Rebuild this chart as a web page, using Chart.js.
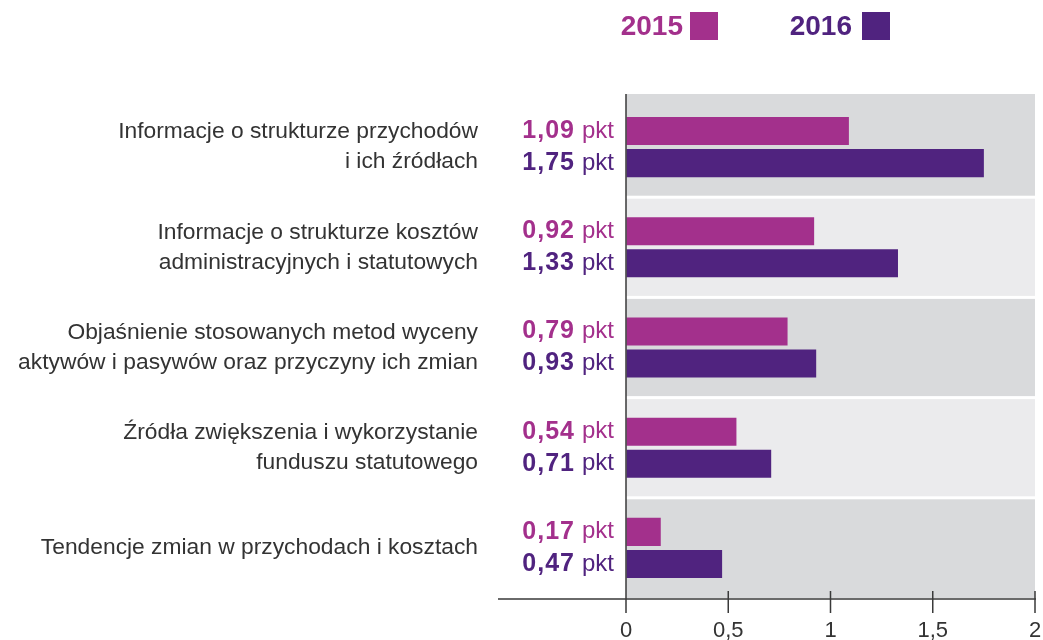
<!DOCTYPE html>
<html><head><meta charset="utf-8">
<script src="https://cdn.jsdelivr.net/npm/chart.js@4/dist/chart.umd.min.js"></script>
<style>html,body{margin:0;padding:0;background:#fff}#wrap{width:1043px;height:640px}</style>
</head><body><div id="wrap"><canvas id="c" width="1043" height="640"></canvas></div>
<script>
const categories = [
  ["Informacje o strukturze przychodów", "i ich źródłach"],
  ["Informacje o strukturze kosztów", "administracyjnych i statutowych"],
  ["Objaśnienie stosowanych metod wyceny", "aktywów i pasywów oraz przyczyny ich zmian"],
  ["Źródła zwiększenia i wykorzystanie", "funduszu statutowego"],
  ["Tendencje zmian w przychodach i kosztach"]
];
const series2015 = [1.09, 0.92, 0.79, 0.54, 0.17];
const series2016 = [1.75, 1.33, 0.93, 0.71, 0.47];
const seriesNames = ["2015", "2016"];
const xTicks = [0, 0.5, 1, 1.5, 2];

const C15 = '#A3308C', C16 = '#50237F';
const FONT = "'Liberation Sans', Arial, sans-serif";
const fmt = v => v.toFixed(2).replace('.', ',');

const bandsPlugin = {
  id: 'bands',
  beforeDatasetsDraw(chart) {
    const {ctx, chartArea: a, scales: {y}} = chart;
    const n = categories.length;
    const h = (a.bottom - a.top) / n;
    ctx.save();
    for (let i = 0; i < n; i++) {
      const c = y.getPixelForValue(i);
      const top = i === 0 ? a.top - 3 : c - h / 2 + 1.5;
      const bot = i === n - 1 ? a.bottom : c + h / 2 - 1.5;
      ctx.fillStyle = i % 2 === 0 ? '#D9DADC' : '#EBEBED';
      ctx.fillRect(a.left, top, a.right - a.left, bot - top);
    }
    ctx.restore();
  },
  afterDraw(chart) {
    const {ctx, chartArea: a, scales: {x, y}} = chart;
    ctx.save();
    ctx.strokeStyle = '#3a3a3a';
    ctx.lineWidth = 1.5;
    ctx.beginPath();
    const ay = a.bottom + 1;
    ctx.moveTo(498, ay); ctx.lineTo(a.right + 1, ay);
    ctx.moveTo(a.left, a.top - 3); ctx.lineTo(a.left, ay + 14);
    xTicks.forEach(v => {
      const px = x.getPixelForValue(v);
      ctx.moveTo(px, ay - 8); ctx.lineTo(px, ay + 14);
    });
    ctx.stroke();
    // category labels
    ctx.fillStyle = '#333';
    ctx.font = '22.8px ' + FONT;
    ctx.textAlign = 'right';
    ctx.textBaseline = 'middle';
    const lh = 30;
    categories.forEach((lines, i) => {
      const c = y.getPixelForValue(i);
      const start = c - (lines.length - 1) * lh / 2;
      lines.forEach((t, k) => ctx.fillText(t, 478, start + k * lh));
    });
    // value labels
    const sets = [series2015, series2016];
    const cols = [C15, C16];
    sets.forEach((vals, d) => {
      const meta = chart.getDatasetMeta(d);
      vals.forEach((v, j) => {
        const by = meta.data[j].y;
        ctx.fillStyle = cols[d];
        ctx.letterSpacing = '0px';
        ctx.font = '24px ' + FONT;
        const pw = ctx.measureText('pkt').width;
        ctx.fillText('pkt', 614, by);
        ctx.font = 'bold 25px ' + FONT;
        ctx.letterSpacing = '1px';
        ctx.fillText(fmt(v), 614 - pw - 7, by);
      });
    });
    ctx.letterSpacing = '0px';
    // legend
    ctx.textAlign = 'right';
    ctx.font = 'bold 28px ' + FONT;
    const leg = [[683, 690, C15], [852, 862, C16]];
    seriesNames.forEach((nm, i) => {
      const [tx, bx, col] = leg[i];
      ctx.fillStyle = col;
      ctx.fillText(nm, tx, 27);
      ctx.fillRect(bx, 12, 28, 28);
    });
    ctx.restore();
  }
};

new Chart(document.getElementById('c'), {
  type: 'bar',
  data: {
    labels: categories.map(l => l.join(' ')),
    datasets: [
      {label: seriesNames[0], data: series2015, backgroundColor: C15, categoryPercentage: 0.64, barPercentage: 0.875},
      {label: seriesNames[1], data: series2016, backgroundColor: C16, categoryPercentage: 0.64, barPercentage: 0.875}
    ]
  },
  options: {
    indexAxis: 'y',
    responsive: false,
    animation: false,
    layout: {padding: {left: 626, top: 97, right: 8, bottom: 0}},
    plugins: {legend: {display: false}, tooltip: {enabled: false}},
    scales: {
      y: {display: false},
      x: {
        min: 0, max: 2,
        afterBuildTicks: s => { s.ticks = xTicks.map(v => ({value: v})); },
        afterFit: s => { s.height = 42; s.paddingLeft = 0; s.paddingRight = 0; },
        ticks: {
          callback: v => String(v).replace('.', ','),
          color: '#333',
          font: {family: FONT, size: 22, lineHeight: 1.0},
          padding: 8,
          maxRotation: 0
        },
        grid: {display: true, drawOnChartArea: false, drawTicks: true, tickLength: 14, color: 'rgba(0,0,0,0)'},
        border: {display: false}
      }
    }
  },
  plugins: [bandsPlugin]
});
</script></body></html>
